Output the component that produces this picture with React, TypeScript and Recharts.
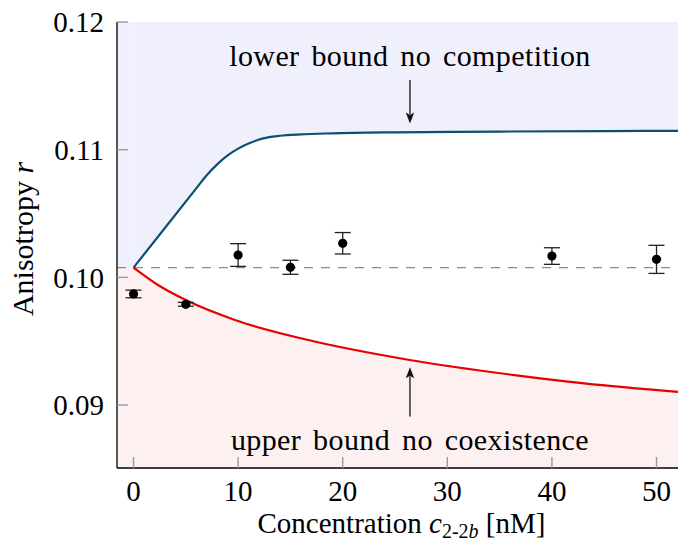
import React from 'react';
import {
  ComposedChart,
  Line,
  Area,
  Scatter,
  XAxis,
  YAxis,
  ReferenceLine,
  ReferenceDot,
  ReferenceArea,
  ErrorBar,
  Label,
} from 'recharts';

// ---- axis ranges & ticks ----
const X_MIN = -1.58;
const X_MAX = 52.82;
const Y_MIN = 0.08507;
const Y_MAX = 0.12;
const xTicks = [0, 10, 20, 30, 40, 50];
const yTicks = [0.09, 0.1, 0.11, 0.12];
const yTickLabels = ['0.09', '0.10', '0.11', '0.12'];

// ---- reference (no-binding) anisotropy ----
const baselineValue = 0.10076;

// ---- lower bound (no competition) curve ----
const lowerBoundX = [0, 3, 6, 7, 8, 9, 10, 11, 12.4, 14, 16, 19, 25, 35, 45, 52.82];
const lowerBoundY = [
  0.10076, 0.10387, 0.10697, 0.108, 0.10885, 0.10955, 0.11008, 0.11048, 0.11089,
  0.11109, 0.1112, 0.11128, 0.11136, 0.11142, 0.11146, 0.11148,
];

// ---- upper bound (no coexistence) curve ----
const upperBoundX = [0, 2.34, 5, 9.7, 16.4, 26.4, 36.4, 43.1, 52.82];
const upperBoundY = [0.10076, 0.0994, 0.09822, 0.09666, 0.09515, 0.09353, 0.09235, 0.0917, 0.09098];

// ---- measurements ----
const measX = [0, 5, 10, 15, 20, 40, 50];
const measY = [0.0987, 0.09789, 0.10175, 0.10079, 0.10267, 0.10167, 0.10141];
const measErr = [0.0003, 0.00015, 0.00089, 0.00055, 0.00084, 0.00065, 0.0011];

// ---- annotations ----
const annX = 26.43;
const lowerText = 'lower bound no competition';
const lowerTextY = 0.1174;
const lowerArrow = [0.11545, 0.11205];
const upperText = 'upper bound no coexistence';
const upperTextY = 0.08727;
const upperArrow = [0.0891, 0.09297];

// ---- derived tables ----
const lowerData = lowerBoundX.map((x, i) => ({ x, y: lowerBoundY[i], band: [lowerBoundY[i], Y_MAX] }));
const upperData = upperBoundX.map((x, i) => ({ x, y: upperBoundY[i], band: [Y_MIN, upperBoundY[i]] }));
const measData = measX.map((x, i) => ({ x, y: measY[i], err: measErr[i] }));

const FONT = "'Liberation Serif', 'Times New Roman', serif";
const FS = 29;
const FS_LABEL = 29;
const FS_ANN = 30;
const TICK_LEN = 11;
const TICK_COLOR = '#9a9a9a';
const BLUE = '#0b4f73';
const RED = '#e60000';
const BLUE_FILL = '#f0f0fc';
const RED_FILL = '#fcf0f0';

const BottomTick = (props: any) => {
  const { x, y, payload } = props;
  return (
    <g>
      <line x1={x} x2={x} y1={y} y2={y - TICK_LEN} stroke={TICK_COLOR} strokeWidth={1.4} />
      <text x={x} y={y + 12} dy="0.71em" textAnchor="middle" fontFamily={FONT} fontSize={FS} fill="#000">
        {payload.value}
      </text>
    </g>
  );
};

const TopTick = (props: any) => {
  const { x, y } = props;
  return <line x1={x} x2={x} y1={y} y2={y + TICK_LEN} stroke={TICK_COLOR} strokeWidth={1.4} />;
};

const LeftTick = (props: any) => {
  const { x, y, payload, index } = props;
  return (
    <g>
      <line x1={x} x2={x + TICK_LEN} y1={y} y2={y} stroke={TICK_COLOR} strokeWidth={1.4} />
      <text x={x - 13} y={y} dy="0.355em" textAnchor="end" fontFamily={FONT} fontSize={FS} fill="#000">
        {yTickLabels[index] ?? payload.value}
      </text>
    </g>
  );
};

const RightTick = (props: any) => {
  const { x, y } = props;
  return <line x1={x} x2={x - TICK_LEN} y1={y} y2={y} stroke={TICK_COLOR} strokeWidth={1.4} />;
};

const ArrowShape = (props: any) => {
  const { x1, y1, x2, y2 } = props;
  const dx = x2 - x1;
  const dy = y2 - y1;
  const len = Math.hypot(dx, dy) || 1;
  const ux = dx / len;
  const uy = dy / len;
  const headLen = 11;
  const headW = 4.2;
  const bx = x2 - ux * headLen;
  const by = y2 - uy * headLen;
  return (
    <g>
      <line x1={x1} y1={y1} x2={bx + ux * 2} y2={by + uy * 2} stroke="#222" strokeWidth={1.4} />
      <polygon
        points={`${x2},${y2} ${bx - uy * headW},${by + ux * headW} ${bx + ux * 2.5},${by + uy * 2.5} ${bx + uy * headW},${by - ux * headW}`}
        fill="#111"
      />
    </g>
  );
};

const Dot = (props: any) => {
  const { cx, cy } = props;
  return <circle cx={cx} cy={cy} r={4.6} fill="#000" />;
};

const makeTextShape = (value: string) => (props: any) => {
  const { cx, cy } = props;
  return (
    <text
      x={cx}
      y={cy}
      dy="0.35em"
      textAnchor="middle"
      fontFamily={FONT}
      fontSize={FS_ANN}
      wordSpacing={4}
      letterSpacing={0.4}
      fill="#000"
    >
      {value}
    </text>
  );
};

const YLabel = (props: any) => {
  const vb = props.viewBox || { x: 0, y: 22, width: 117, height: 446 };
  const cx = vb.x + 22;
  const cy = vb.y + vb.height / 2 - 6;
  return (
    <text
      x={cx}
      y={cy}
      transform={`rotate(-90, ${cx}, ${cy})`}
      textAnchor="middle"
      dy="0.35em"
      fontFamily={FONT}
      fontSize={FS_ANN}
      fill="#000"
    >
      Anisotropy <tspan fontStyle="italic">r</tspan>
    </text>
  );
};

const XLabel = (props: any) => {
  const vb = props.viewBox || { x: 117, y: 468, width: 569, height: 75 };
  const cx = vb.x + vb.width / 2;
  const cy = vb.y + 65;
  return (
    <text x={cx} y={cy} textAnchor="middle" fontFamily={FONT} fontSize={FS_LABEL} fill="#000">
      Concentration <tspan fontStyle="italic">c</tspan>
      <tspan fontSize={20} dy={5}>
        2-2<tspan fontStyle="italic">b</tspan>
      </tspan>
      <tspan dy={-5}> [nM]</tspan>
    </text>
  );
};

export default function App() {
  return (
    <div
      style={{
        position: 'fixed',
        left: 0,
        top: 0,
        width: 678,
        height: 543,
        overflow: 'hidden',
        background: '#fff',
        fontFamily: FONT,
      }}
    >
      <ComposedChart width={700} height={543} margin={{ top: 22, right: 14, bottom: 0, left: 0 }}>
        <XAxis
          dataKey="x"
          type="number"
          domain={[X_MIN, X_MAX]}
          ticks={xTicks}
          allowDataOverflow
          height={75}
          tickSize={0}
          tickMargin={0}
          tickLine={false}
          axisLine={{ stroke: '#000', strokeWidth: 1.3 }}
          tick={<BottomTick />}
          interval={0}
        >
          <Label content={<XLabel />} />
        </XAxis>
        <XAxis
          xAxisId="top"
          orientation="top"
          dataKey="x"
          type="number"
          domain={[X_MIN, X_MAX]}
          ticks={xTicks}
          allowDataOverflow
          height={0}
          tickSize={0}
          tickMargin={0}
          tickLine={false}
          axisLine={{ stroke: '#000', strokeWidth: 1.3 }}
          tick={<TopTick />}
          interval={0}
        />
        <YAxis
          type="number"
          domain={[Y_MIN, Y_MAX]}
          ticks={yTicks}
          allowDataOverflow
          width={117}
          tickSize={0}
          tickMargin={0}
          tickLine={false}
          axisLine={{ stroke: '#000', strokeWidth: 1.3 }}
          tick={<LeftTick />}
          interval={0}
        >
          <Label content={<YLabel />} />
        </YAxis>
        <YAxis
          yAxisId="right"
          orientation="right"
          type="number"
          domain={[Y_MIN, Y_MAX]}
          ticks={yTicks}
          allowDataOverflow
          width={0}
          tickSize={0}
          tickMargin={0}
          tickLine={false}
          axisLine={{ stroke: '#000', strokeWidth: 1.3 }}
          tick={<RightTick />}
          interval={0}
        />

        <ReferenceArea x1={X_MIN} x2={0} y1={baselineValue} y2={Y_MAX} fill={BLUE_FILL} fillOpacity={1} stroke="none" />
        <ReferenceArea x1={X_MIN} x2={0} y1={Y_MIN} y2={baselineValue} fill={RED_FILL} fillOpacity={1} stroke="none" />
        <Area
          data={lowerData}
          dataKey="band"
          type="monotone"
          fill={BLUE_FILL}
          fillOpacity={1}
          stroke="none"
          isAnimationActive={false}
          activeDot={false}
          dot={false}
        />
        <Area
          data={upperData}
          dataKey="band"
          type="monotone"
          fill={RED_FILL}
          fillOpacity={1}
          stroke="none"
          isAnimationActive={false}
          activeDot={false}
          dot={false}
        />

        <ReferenceLine y={baselineValue} stroke="#8a8a8a" strokeWidth={1.3} strokeDasharray="9 8" />

        <Line
          data={lowerData}
          dataKey="y"
          type="monotone"
          stroke={BLUE}
          strokeWidth={2.2}
          dot={false}
          activeDot={false}
          isAnimationActive={false}
        />
        <Line
          data={upperData}
          dataKey="y"
          type="monotone"
          stroke={RED}
          strokeWidth={2.2}
          dot={false}
          activeDot={false}
          isAnimationActive={false}
        />

        <Scatter data={measData} dataKey="y" shape={<Dot />} isAnimationActive={false}>
          <ErrorBar dataKey="err" direction="y" width={8} stroke="#222" strokeWidth={1.3} />
        </Scatter>

        <ReferenceLine
          segment={[
            { x: annX, y: lowerArrow[0] },
            { x: annX, y: lowerArrow[1] },
          ]}
          shape={<ArrowShape />}
        />
        <ReferenceLine
          segment={[
            { x: annX, y: upperArrow[0] },
            { x: annX, y: upperArrow[1] },
          ]}
          shape={<ArrowShape />}
        />
        <ReferenceDot x={annX} y={lowerTextY} r={1} shape={makeTextShape(lowerText)} />
        <ReferenceDot x={annX} y={upperTextY} r={1} shape={makeTextShape(upperText)} />
      </ComposedChart>
    </div>
  );
}
